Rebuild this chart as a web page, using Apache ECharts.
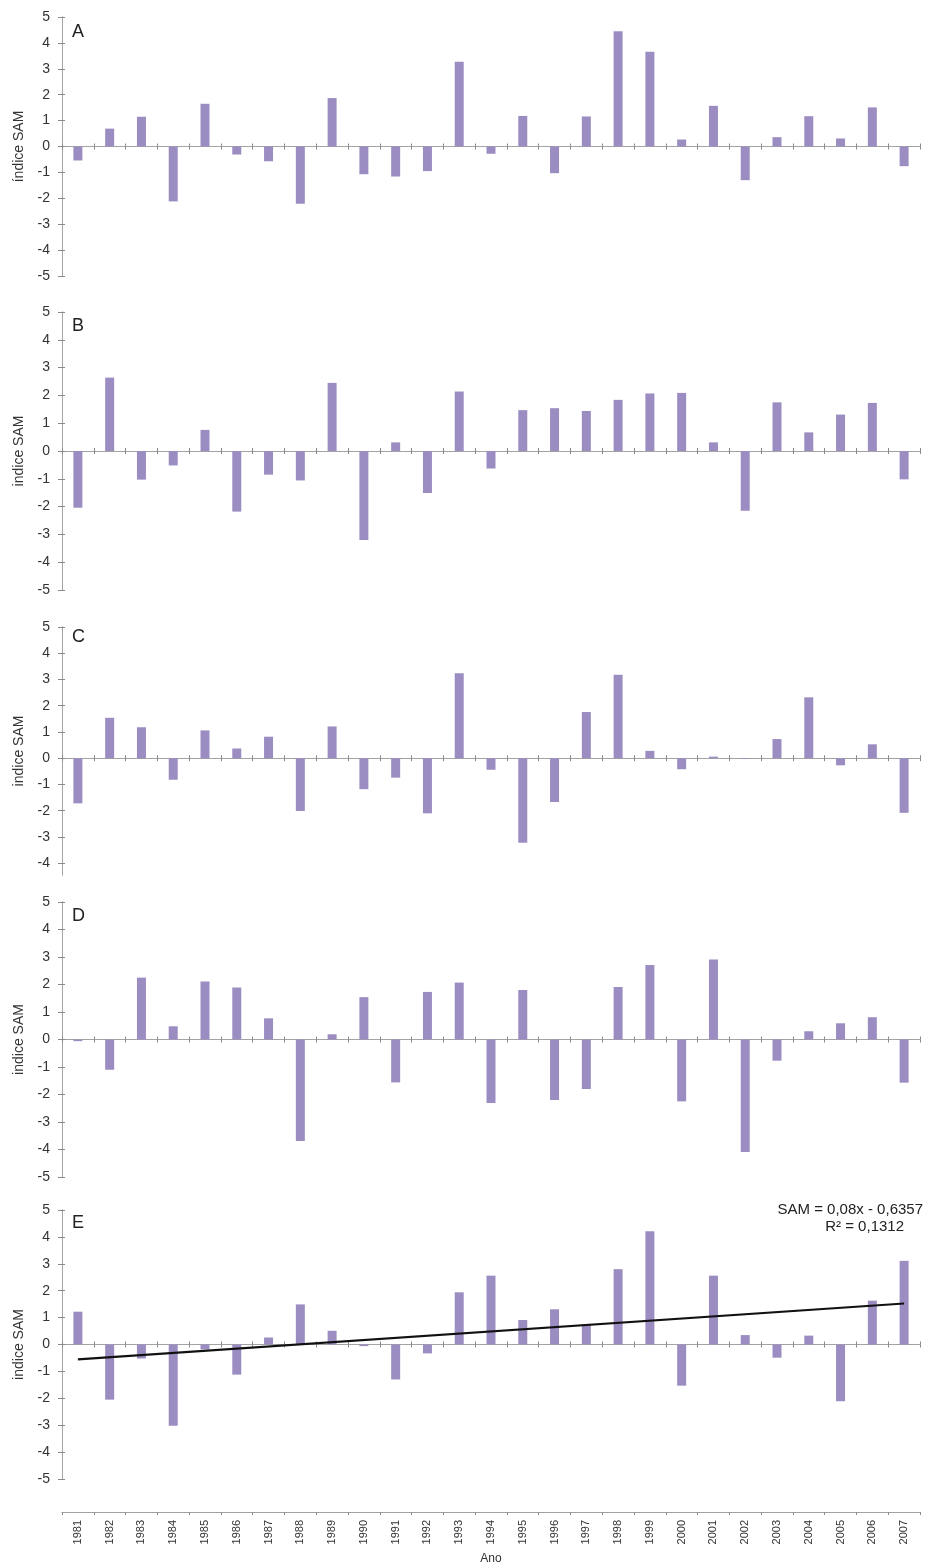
<!DOCTYPE html>
<html>
<head>
<meta charset="utf-8">
<title>Índice SAM 1981-2007</title>
<script src="https://cdn.jsdelivr.net/npm/echarts@6/dist/echarts.min.js"></script>
<style>
  html, body { margin: 0; padding: 0; background: #ffffff; }
  #chart { width: 926px; height: 1566px; }
</style>
</head>
<body>
<div id="chart"></div>
<script>
// Years on the category axis
const years = ['1981','1982','1983','1984','1985','1986','1987','1988','1989','1990',
               '1991','1992','1993','1994','1995','1996','1997','1998','1999','2000',
               '2001','2002','2003','2004','2005','2006','2007'];

// SAM index per panel
const samA = [-0.54, 0.69, 1.15, -2.12, 1.65, -0.31, -0.57, -2.21, 1.87, -1.07,
              -1.16, -0.95, 3.27, -0.28, 1.18, -1.03, 1.16, 4.45, 3.66, 0.27,
              1.57, -1.30, 0.36, 1.17, 0.31, 1.51, -0.76];
const samB = [-2.04, 2.64, -1.03, -0.52, 0.76, -2.18, -0.85, -1.06, 2.45, -3.20,
              0.31, -1.51, 2.14, -0.63, 1.47, 1.54, 1.44, 1.84, 2.07, 2.09,
              0.31, -2.15, 1.75, 0.67, 1.31, 1.73, -1.02];
const samC = [-1.72, 1.54, 1.18, -0.82, 1.06, 0.37, 0.82, -2.01, 1.21, -1.18,
              -0.74, -2.10, 3.24, -0.44, -3.22, -1.67, 1.76, 3.18, 0.28, -0.42,
              0.06, -0.03, 0.73, 2.32, -0.27, 0.53, -2.08];
const samD = [-0.06, -1.10, 2.25, 0.48, 2.11, 1.89, 0.77, -3.69, 0.19, 1.54,
              -1.56, 1.73, 2.07, -2.31, 1.80, -2.20, -1.80, 1.91, 2.71, -2.25,
              2.91, -4.09, -0.77, 0.30, 0.59, 0.81, -1.57];
const samE = [1.22, -2.05, -0.52, -3.02, -0.18, -1.12, 0.26, 1.49, 0.51, -0.06,
              -1.30, -0.33, 1.94, 2.56, 0.91, 1.31, 0.74, 2.80, 4.21, -1.53,
              2.56, 0.35, -0.49, 0.33, -2.11, 1.63, 3.11];

// Linear trend of panel E (x = 1 for 1981)
const trendSlope = 0.08;
const trendIntercept = -0.6357;
const trendText = ['SAM = 0,08x - 0,6357', 'R² = 0,1312'];

const panelLetters = ['A', 'B', 'C', 'D', 'E'];
const yAxisNames = ['índice SAM', 'indice SAM', 'indice SAM', 'indice SAM', 'indice SAM'];
const yTickValues = [-5, -4, -3, -2, -1, 0, 1, 2, 3, 4, 5];
const yTickValuesC = [-4, -3, -2, -1, 0, 1, 2, 3, 4, 5];
const xAxisName = 'Ano';

const panelData = [samA, samB, samC, samD, samE];

// Layout of the five stacked panels
const gridLeft = 62;
const gridWidth = 858;
const panels = [
  { top: 17,   height: 259, min: -5,    letterTop: 23 },
  { top: 312,  height: 278, min: -5,    letterTop: 317 },
  { top: 627,  height: 248, min: -4.45, letterTop: 628 },
  { top: 902,  height: 275, min: -5,    letterTop: 907 },
  { top: 1210, height: 269, min: -5,    letterTop: 1214 }
];

const FONT = '"Liberation Sans", Arial, sans-serif';
const AXIS_GREY = '#a3a3a3';
const TICK_GREY = '#8a8a8a';
const BAR_COLOR = '#9b8dc1';

const grids = [], xAxes = [], yAxes = [], series = [], titles = [];
const innerX = [], innerY = [];

panels.forEach((p, i) => {
  grids.push({ left: gridLeft, width: gridWidth, top: p.top, height: p.height });

  // zero line with tick marks between the years
  const xBase = {
    type: 'category', gridIndex: i, data: years, position: 'bottom',
    boundaryGap: true,
    axisLine: { show: true, onZero: true, onZeroAxisIndex: i, lineStyle: { color: AXIS_GREY, width: 1 } },
    axisLabel: { show: false },
    splitLine: { show: false }
  };
  xAxes.push(Object.assign({}, xBase, {
    axisTick: { show: true, interval: 0, length: 3, lineStyle: { color: TICK_GREY } }
  }));
  // same line again, ticks pointing up, so the marks cross the line
  innerX.push(Object.assign({}, xBase, {
    axisTick: { show: true, inside: true, interval: 0, length: 3, lineStyle: { color: TICK_GREY } }
  }));

  const ticks = p.min === -5 ? yTickValues : yTickValuesC;
  const yBase = {
    type: 'value', gridIndex: i, min: p.min, max: 5, position: 'left',
    interval: p.min === -5 ? 1 : undefined,
    axisLine: { show: true, lineStyle: { color: AXIS_GREY, width: 1 } },
    splitLine: { show: false }
  };
  yAxes.push(Object.assign({}, yBase, {
    axisTick: { show: true, length: 4, lineStyle: { color: TICK_GREY }, customValues: ticks },
    axisLabel: { color: '#333', fontSize: 14, fontFamily: FONT, margin: 12, customValues: ticks },
    name: yAxisNames[i], nameLocation: 'middle', nameGap: 36, nameRotate: 90,
    nameTextStyle: { color: '#333', fontSize: 14, fontFamily: FONT }
  }));
  innerY.push(Object.assign({}, yBase, {
    axisTick: { show: true, inside: true, length: 3, lineStyle: { color: TICK_GREY }, customValues: ticks },
    axisLabel: { show: false }
  }));

  series.push({
    type: 'bar', xAxisIndex: i, yAxisIndex: i,
    data: panelData[i], barWidth: 9,
    itemStyle: { color: BAR_COLOR },
    silent: true
  });

  titles.push({
    text: panelLetters[i], left: 72, top: p.letterTop,
    textStyle: { fontSize: 18, fontWeight: 'normal', color: '#222', fontFamily: FONT },
    padding: 0
  });
});

// Year labels below the last panel
xAxes.push({
  type: 'category', gridIndex: 4, data: years, position: 'bottom', offset: 33,
  boundaryGap: true,
  axisLine: { show: true, onZero: false, lineStyle: { color: AXIS_GREY, width: 1 } },
  axisTick: { show: true, interval: 0, length: 3, lineStyle: { color: TICK_GREY } },
  axisLabel: { show: true, interval: 0, rotate: 90, margin: 8, color: '#333', fontSize: 11, fontFamily: FONT },
  splitLine: { show: false },
  name: xAxisName, nameLocation: 'middle', nameGap: 41,
  nameTextStyle: { color: '#333', fontSize: 12, fontFamily: FONT }
});

innerX.forEach(a => xAxes.push(a));
innerY.forEach(a => yAxes.push(a));

// Trend line of panel E, from the fitted equation
const trendData = [
  [years[0], trendSlope * 1 + trendIntercept],
  [years[years.length - 1], trendSlope * years.length + trendIntercept]
];
series.push({
  type: 'line', xAxisIndex: 4, yAxisIndex: 4,
  data: trendData, symbol: 'none', silent: true,
  lineStyle: { color: '#111', width: 2.2 },
  z: 5
});

const option = {
  animation: false,
  backgroundColor: '#ffffff',
  title: titles,
  grid: grids,
  xAxis: xAxes,
  yAxis: yAxes,
  series: series,
  graphic: [
    { type: 'text', right: 3, top: 1202,
      style: { text: trendText[0], fill: '#222', fontSize: 15, fontFamily: FONT } },
    { type: 'text', right: 22, top: 1219,
      style: { text: trendText[1], fill: '#222', fontSize: 15, fontFamily: FONT } }
  ]
};

const chart = echarts.init(document.getElementById('chart'), null, { renderer: 'canvas' });
chart.setOption(option);
</script>
</body>
</html>
